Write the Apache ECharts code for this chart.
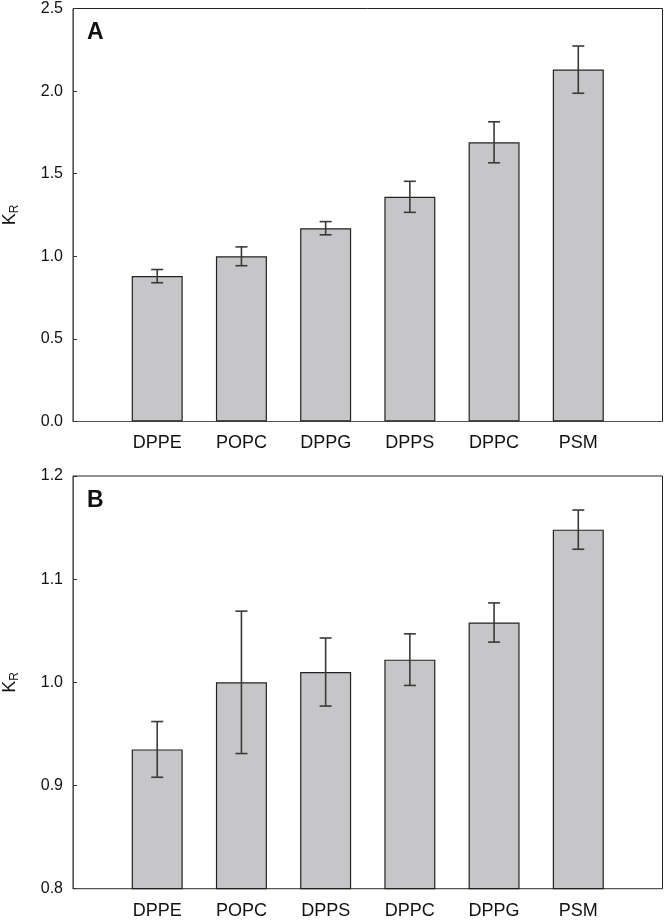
<!DOCTYPE html>
<html>
<head>
<meta charset="utf-8">
<script src="https://cdn.jsdelivr.net/npm/echarts@6/dist/echarts.min.js"></script>
<style>html,body{margin:0;padding:0;background:#fff}#c{width:664px;height:923px}</style>
</head>
<body>
<div id="c"></div>
<script>
const catsA = ['DPPE', 'POPC', 'DPPG', 'DPPS', 'DPPC', 'PSM'];
const valsA = [0.88, 1.00, 1.17, 1.36, 1.69, 2.13];
const errA  = [0.040, 0.057, 0.040, 0.094, 0.124, 0.143];
const catsB = ['DPPE', 'POPC', 'DPPS', 'DPPC', 'DPPG', 'PSM'];
const valsB = [0.935, 1.000, 1.010, 1.022, 1.058, 1.148];
const errB  = [0.027, 0.069, 0.033, 0.025, 0.019, 0.019];
const yTicksA = {min: 0, max: 2.5, interval: 0.5};
const yTicksB = {min: 0.8, max: 1.2, interval: 0.1};

const FONT = 'Liberation Sans, Arial, sans-serif';
const padCats = c => [''].concat(c, ['']);
const barData = v => [null].concat(v, [null]);
const errData = (v, e) => v.map((x, i) => [i + 1, x - e[i], x + e[i]]);

function errRender(params, api) {
  const x = api.value(0);
  const lo = api.coord([x, api.value(1)]);
  const hi = api.coord([x, api.value(2)]);
  const hw = 6;
  const style = {stroke: '#3a3a3a', lineWidth: 1.6};
  return {
    type: 'group',
    children: [
      {type: 'line', shape: {x1: lo[0], y1: lo[1], x2: hi[0], y2: hi[1]}, style},
      {type: 'line', shape: {x1: hi[0] - hw, y1: hi[1], x2: hi[0] + hw, y2: hi[1]}, style},
      {type: 'line', shape: {x1: lo[0] - hw, y1: lo[1], x2: lo[0] + hw, y2: lo[1]}, style}
    ]
  };
}

function xAxis(cats, gi) {
  return {
    type: 'category', gridIndex: gi, data: padCats(cats), boundaryGap: false,
    axisTick: {show: false},
    axisLine: {lineStyle: {color: '#555', width: 1}},
    axisLabel: {interval: 0, color: '#111', fontSize: 18, fontFamily: FONT, margin: 13}
  };
}
function yAxis(t, gi) {
  return {
    type: 'value', gridIndex: gi, min: t.min, max: t.max, interval: t.interval,
    splitLine: {show: false},
    axisLine: {show: true, lineStyle: {color: '#555', width: 1}},
    axisTick: {show: true, inside: true, length: 4, lineStyle: {color: '#333'}},
    axisLabel: {color: '#111', fontSize: 16, fontFamily: FONT, margin: 10,
      formatter: v => v.toFixed(1)},
    name: '{k|K}{r|R}', nameLocation: 'middle', nameGap: 52, nameRotate: 90,
    nameTextStyle: {rich: {
      k: {fontSize: 18, fontFamily: FONT, color: '#111'},
      r: {fontSize: 12, fontFamily: FONT, color: '#111', padding: [10, 0, 0, 0]}
    }}
  };
}
function barSeries(v, gi) {
  return {
    type: 'bar', xAxisIndex: gi, yAxisIndex: gi, data: barData(v), barWidth: 51,
    itemStyle: {color: '#c6c6c8', borderColor: '#222', borderWidth: 1.2},
    silent: true, animation: false
  };
}
function errSeries(v, e, gi) {
  return {
    type: 'custom', xAxisIndex: gi, yAxisIndex: gi, data: errData(v, e),
    renderItem: errRender, silent: true, animation: false, z: 5
  };
}

const chart = echarts.init(document.getElementById('c'));
chart.setOption({
  animation: false,
  backgroundColor: '#fff',
  grid: [
    {left: 73, top: 8.5, right: 1.5, height: 413, show: true, borderColor: '#222', borderWidth: 1, containLabel: false, outerBoundsMode: 'none'},
    {left: 73, top: 476, right: 1.5, height: 412.7, show: true, borderColor: '#222', borderWidth: 1, containLabel: false, outerBoundsMode: 'none'}
  ],
  title: [
    {text: 'A', left: 82, top: 16, textStyle: {fontSize: 23, fontWeight: 'bold', color: '#111', fontFamily: FONT}},
    {text: 'B', left: 82, top: 484, textStyle: {fontSize: 23, fontWeight: 'bold', color: '#111', fontFamily: FONT}}
  ],
  xAxis: [xAxis(catsA, 0), xAxis(catsB, 1)],
  yAxis: [yAxis(yTicksA, 0), yAxis(yTicksB, 1)],
  series: [
    barSeries(valsA, 0), errSeries(valsA, errA, 0),
    barSeries(valsB, 1), errSeries(valsB, errB, 1)
  ]
});
</script>
</body>
</html>
